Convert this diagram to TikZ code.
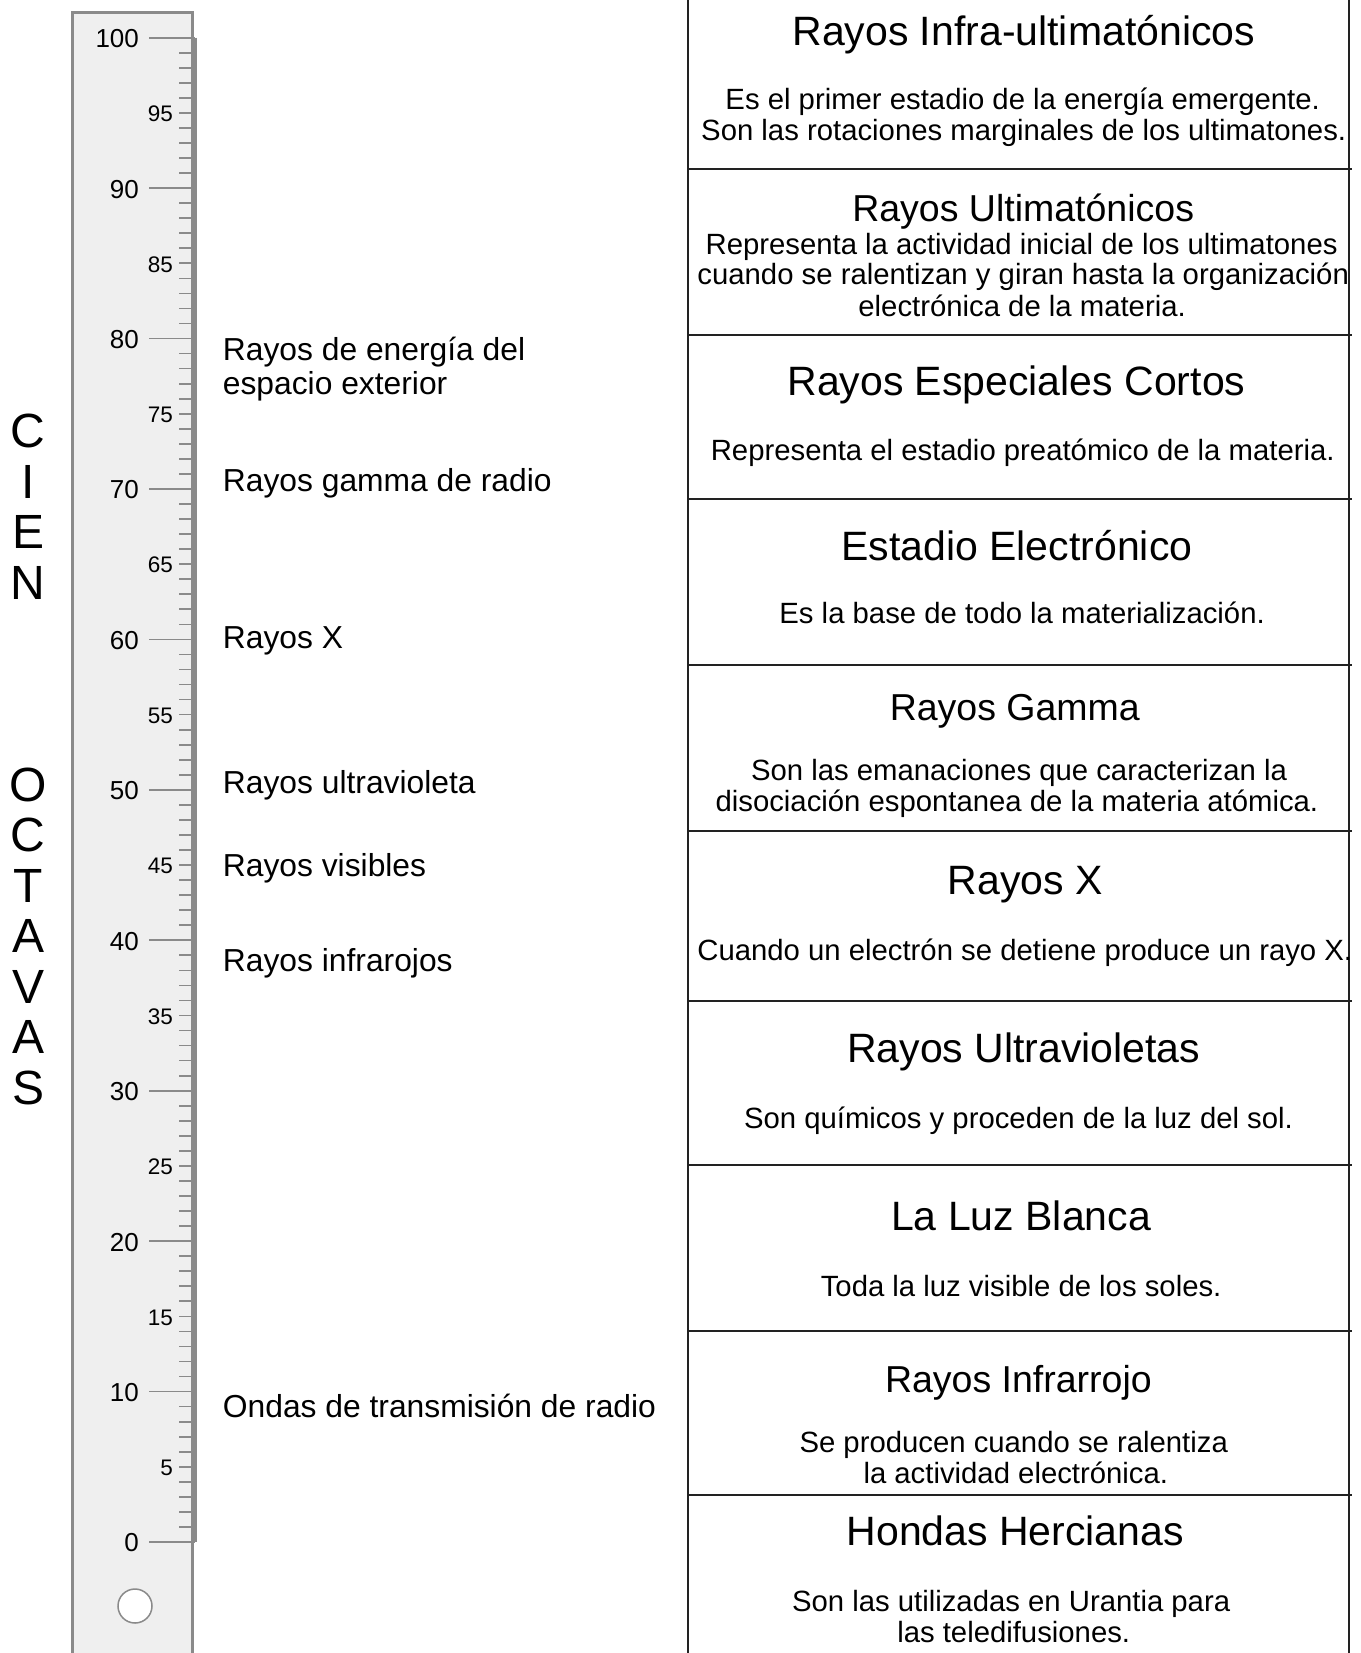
\documentclass[tikz,border=0pt]{standalone}
\usepackage{fontspec}
\setmainfont{Liberation Sans}
\definecolor{rulerfill}{HTML}{EFEFEF}
\definecolor{rulergray}{HTML}{8A8A8A}
\definecolor{linegray}{HTML}{222222}
\begin{document}
\begin{tikzpicture}[x=0.5pt,y=-0.5pt,
  tick/.style={draw=rulergray,line width=0.85pt},
  rule/.style={draw=linegray,line width=1pt},
  biglbl/.style={anchor=east,inner sep=0pt,font=\fontsize{13}{14}\selectfont},
  smalllbl/.style={anchor=east,inner sep=0pt,font=\fontsize{11.25}{12}\selectfont},
  letter/.style={inner sep=0pt,font=\fontsize{24}{25}\selectfont},
  band/.style={anchor=base west,inner sep=0pt,font=\fontsize{15.9}{17}\selectfont},
  ttl/.style={anchor=base,inner sep=0pt,font=\fontsize{20.5}{22}\selectfont},
  ttlsmall/.style={ttl,font=\fontsize{18.75}{20}\selectfont},
  txt/.style={anchor=base,inner sep=0pt,font=\fontsize{14.65}{16}\selectfont}]
\useasboundingbox (0,0) rectangle (1360,1653);
\clip (0,0) rectangle (1360,1653);

% ruler
\filldraw[fill=rulerfill,draw=rulergray,line width=1.65pt] (72.7,12.7) rectangle (192.3,1700);
\draw[rulergray,line width=1.85pt] (194.8,37.7) -- (194.8,1542);
\foreach \v in {0,...,100}
  \draw[tick] (179,{1542-15.043*\v}) -- (195,{1542-15.043*\v});
\foreach \v in {0,10,...,100} {
  \draw[tick] (149,{1542-15.043*\v}) -- (195,{1542-15.043*\v});
  \node[biglbl] (m\v) at (139.3,{1543-15.043*\v}) {\v};
}
\foreach \v in {5,15,...,95}
  \node[smalllbl] (m\v) at (173.3,{1543-15.043*\v}) {\v};
\filldraw[fill=white,draw=rulergray,line width=0.75pt] (135,1606) circle (17);

% vertical title
\foreach \i/\c in {0/C,1/I,2/E,3/N,7/O,8/C,9/T,10/A,11/V,12/A,13/S}
  \node[letter] (l\i) at (28.3,{431+50.5*\i}) {\c};

% band labels
\node[band] (outer1) at (222.5,360) {Rayos de energía del};
\node[band] (outer2) at (222.5,394) {espacio exterior};
\node[band] (gradio) at (222.5,491.5) {Rayos gamma de radio};
\node[band] (xray) at (222.5,648) {Rayos X};
\node[band] (uv) at (222.5,793.3) {Rayos ultravioleta};
\node[band] (vis) at (222.5,876) {Rayos visibles};
\node[band] (ir) at (222.5,971.7) {Rayos infrarojos};
\node[band] (radio) at (222.5,1417.7) {Ondas de transmisión de radio};

% table
\draw[rule] (688,0) -- (688,1653);
\draw[rule] (1349,0) -- (1349,1653);
\foreach \hy in {169,335,499,665,830.5,1000.5,1165,1330.5,1495}
  \draw[rule] (688,\hy) -- (1352,\hy);

\foreach \tx/\ty/\tn/\tt in {1023.7/46/t1/{Rayos Infra-ultimatónicos},
    1016.4/395/t3/{Rayos Especiales Cortos},
    1016.9/560/t4/{Estadio Electrónico},
    1025.3/894/t6/{Rayos X},
    1023.7/1062.7/t7/{Rayos Ultravioletas},
    1021.1/1230.3/t8/{La Luz Blanca},
    1015.3/1545/t10/{Hondas Hercianas}}
  \node[ttl] (\tn) at (\tx,\ty) {\tt};
\foreach \tx/\ty/\tn/\tt in {1023.2/221.4/t2/{Rayos Ultimatónicos},
    1014.8/720.5/t5/{Rayos Gamma},
    1018.4/1392.7/t9/{Rayos Infrarrojo}}
  \node[ttlsmall] (\tn) at (\tx,\ty) {\tt};

\foreach \bx/\by/\bn/\bt in {1022.7/109.5/b1a/{Es el primer estadio de la energía emergente.},
    1023.7/141/b1b/{Son las rotaciones marginales de los ultimatones.},
    1021.6/255/b2a/{Representa la actividad inicial de los ultimatones},
    1023.2/285/b2b/{cuando se ralentizan y giran hasta la organización},
    1022.1/316.7/b2c/{electrónica de la materia.},
    1022.7/460.6/b3a/{Representa el estadio preatómico de la materia.},
    1022.1/623.3/b4a/{Es la base de todo la materialización.},
    1019/780/b5a/{Son las emanaciones que caracterizan la},
    1016.9/811.6/b5b/{disociación espontanea de la materia atómica.},
    1024.8/960.4/b6a/{Cuando un electrón se detiene produce un rayo X.},
    1018.5/1128/b7a/{Son químicos y proceden de la luz del sol.},
    1021.1/1296.6/b8a/{Toda la luz visible de los soles.},
    1013.7/1452.7/b9a/{Se producen cuando se ralentiza},
    1015.8/1483.5/b9b/{la actividad electrónica.},
    1011.1/1611/b10a/{Son las utilizadas en Urantia para},
    1013.7/1642/b10b/{las teledifusiones.}}
  \node[txt] (\bn) at (\bx,\by) {\bt};
\end{tikzpicture}
\end{document}
